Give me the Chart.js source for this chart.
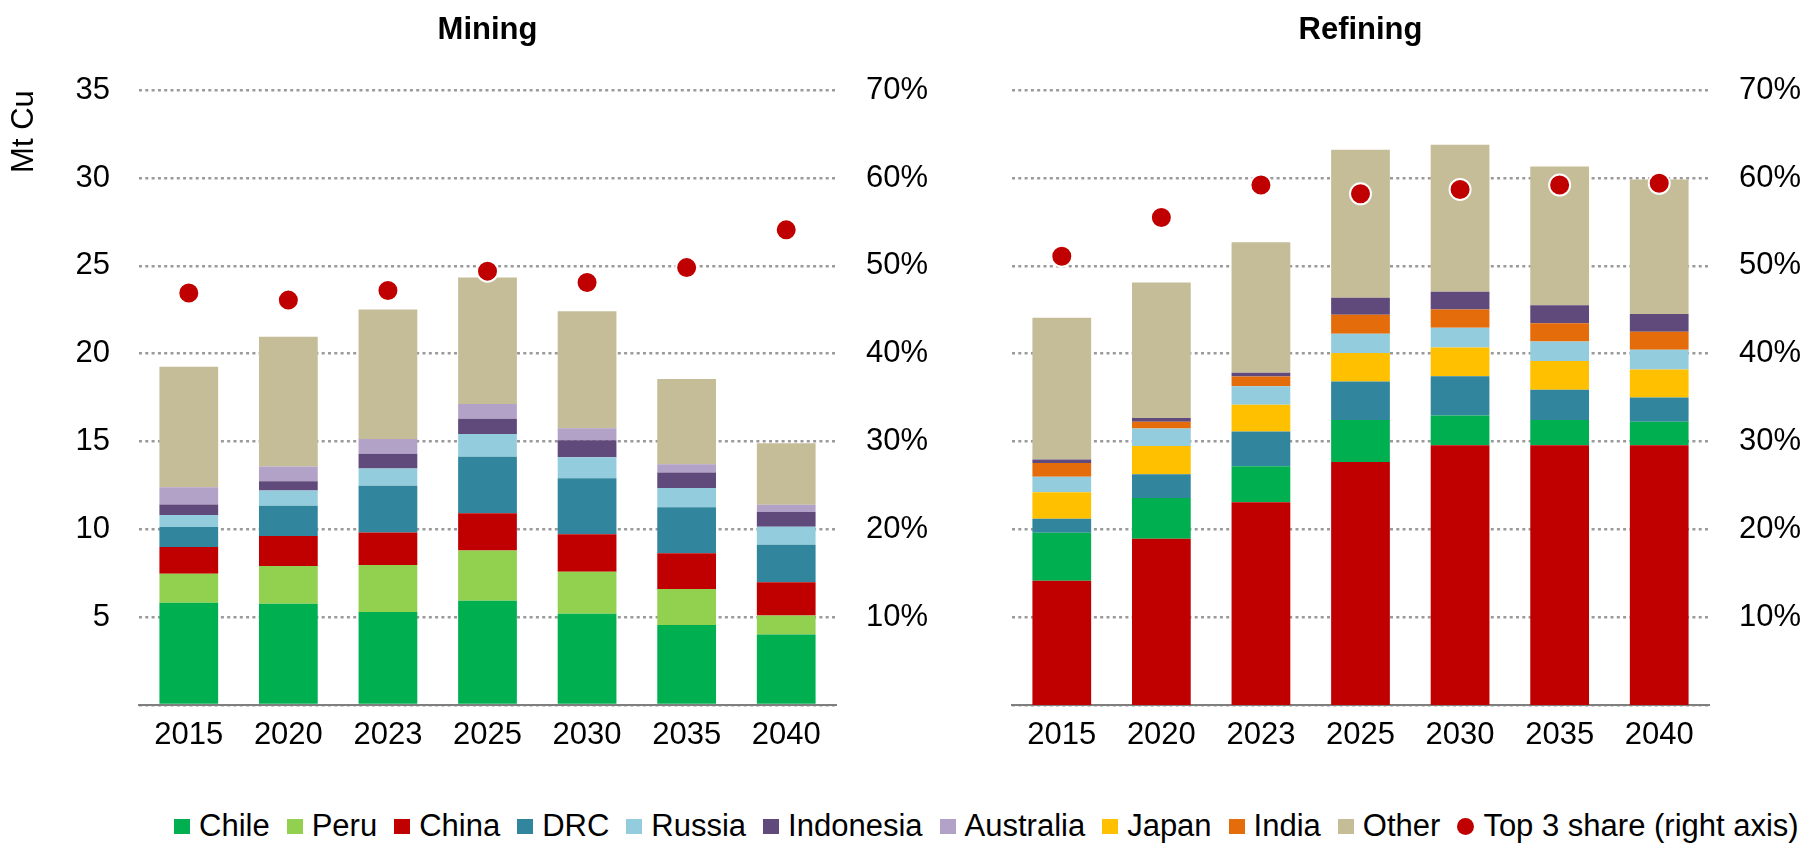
<!DOCTYPE html>
<html>
<head>
<meta charset="utf-8">
<script src="https://cdn.jsdelivr.net/npm/chart.js@4"></script>
<style>
  body { margin: 0; background: #fff; width: 1807px; height: 843px; position: relative; overflow: hidden;
         font-family: "Liberation Sans", Arial, sans-serif; }
  canvas { position: absolute; top: 0; }
  #mining { left: 0; }
  #refining { left: 914px; }
  #legend { position: absolute; left: 174px; top: 808px; display: flex; align-items: center;
            font-size: 31px; color: #000; white-space: nowrap; }
  #legend .item { display: flex; align-items: center; margin-right: 17px; }
  #legend .item:last-child { margin-right: 0; }
  #legend .sw { width: 16px; height: 15px; margin-right: 9px; }
  #legend .dot { width: 17px; height: 17px; border-radius: 50%; margin-right: 9px; }
</style>
</head>
<body>
<canvas id="mining" width="975" height="760"></canvas>
<canvas id="refining" width="893" height="760"></canvas>
<div id="legend"></div>
<script>
const years = ['2015', '2020', '2023', '2025', '2030', '2035', '2040'];

// Mining, Mt Cu
const miningChile     = [5.82, 5.77, 5.29, 5.94, 5.19, 4.55, 4.02];
const miningPeru      = [1.65, 2.15, 2.68, 2.85, 2.40, 2.06, 1.08];
const miningChina     = [1.53, 1.70, 1.85, 2.13, 2.13, 2.03, 1.89];
const miningDRC       = [1.13, 1.73, 2.66, 3.21, 3.19, 2.62, 2.13];
const miningRussia    = [0.69, 0.86, 0.98, 1.30, 1.20, 1.10, 1.03];
const miningIndonesia = [0.60, 0.53, 0.84, 0.86, 0.96, 0.88, 0.84];
const miningAustralia = [0.98, 0.84, 0.84, 0.84, 0.69, 0.46, 0.41];
const miningOther     = [6.85, 7.38, 7.38, 7.21, 6.66, 4.86, 3.50];
const miningTop3      = [46.9, 46.1, 47.2, 49.4, 48.1, 49.8, 54.1];

// Refining, Mt Cu
const refChina     = [7.08, 9.46, 11.54, 13.83, 14.79, 14.79, 14.79];
const refChile     = [2.72, 2.32, 2.05, 2.39, 1.69, 1.43, 1.33];
const refDRC       = [0.81, 1.36, 1.98, 2.19, 2.24, 1.72, 1.39];
const refJapan     = [1.50, 1.60, 1.53, 1.63, 1.63, 1.64, 1.59];
const refRussia    = [0.89, 1.00, 1.05, 1.09, 1.12, 1.12, 1.13];
const refIndia     = [0.78, 0.38, 0.55, 1.08, 1.05, 1.03, 1.02];
const refIndonesia = [0.19, 0.22, 0.21, 0.98, 1.00, 1.03, 1.01];
const refOther     = [8.07, 7.71, 7.43, 8.42, 8.38, 7.90, 7.66];
const refTop3      = [51.1, 55.5, 59.2, 58.2, 58.7, 59.2, 59.4];

const leftTicks = [5, 10, 15, 20, 25, 30, 35];
const rightTicks = [10, 20, 30, 40, 50, 60, 70];

const colors = {
    Chile: '#00B050', Peru: '#92D050', China: '#C00000', DRC: '#31859C', Russia: '#93CDDD',
    Indonesia: '#604A7B', Australia: '#B3A2C7', Japan: '#FFC000', India: '#E46C0A', Other: '#C4BD97'
};
const dotColor = '#C00000';

Chart.defaults.font.family = '"Liberation Sans", Arial, sans-serif';
Chart.defaults.font.size = 31;
Chart.defaults.color = '#000';

// grid lines in v4 have no dash option, so force a dotted pattern while grids are drawn
const origDrawGrid = Chart.Scale.prototype.drawGrid;
Chart.Scale.prototype.drawGrid = function (chartArea) {
    const ctx = this.ctx;
    const origSetLineDash = ctx.setLineDash;
    ctx.setLineDash = function () { origSetLineDash.call(ctx, [3, 3.3]); };
    try { origDrawGrid.call(this, chartArea); } finally { ctx.setLineDash = origSetLineDash; }
};

function bar(label, data) {
    return { type: 'bar', label, data, backgroundColor: colors[label], stack: 's', order: 1,
             barPercentage: 0.59, categoryPercentage: 1, borderWidth: 0 };
}
function dots(data) {
    return { type: 'line', label: 'Top 3 share (right axis)', data, yAxisID: 'y2', order: 0,
             showLine: false, pointRadius: 10.5, pointHoverRadius: 10.5, pointBackgroundColor: dotColor,
             pointBorderColor: '#fff', pointBorderWidth: 2 };
}

const gridStyle = { color: '#9a9a9a', lineWidth: 2.6, drawTicks: false };

function makeChart(id, title, datasets, isLeft) {
    // fixed side widths keep both plot areas the same size and the titles centred on them
    const sideWidth = isLeft ? 139 : 98;
    return new Chart(document.getElementById(id), {
        data: { labels: years, datasets },
        options: {
            responsive: false,
            animation: false,
            layout: { padding: 0 },
            plugins: {
                legend: { display: false },
                tooltip: { enabled: false },
                title: { display: true, text: title, font: { size: 31, weight: 'bold' }, color: '#000',
                         padding: { top: 12, bottom: 41 } }
            },
            scales: {
                x: {
                    stacked: true,
                    grid: { display: false, drawTicks: false },
                    border: { display: true, color: '#7f7f7f', width: 2 },
                    ticks: { padding: 12 },
                    afterFit: s => { s.height = 55; }
                },
                y: {
                    display: isLeft,
                    stacked: true,
                    min: 0, max: 35,
                    afterBuildTicks: s => { s.ticks = [0].concat(leftTicks).map(v => ({ value: v })); },
                    ticks: { padding: 29, callback: v => v === 0 ? '' : v },
                    grid: gridStyle,
                    border: { display: false },
                    title: { display: true, text: 'Mt Cu', align: 'end', padding: { top: 6, bottom: 0 } },
                    afterFit: s => { s.width = sideWidth; }
                },
                y2: {
                    position: 'right',
                    min: 0, max: 70,
                    afterBuildTicks: s => { s.ticks = [0].concat(rightTicks).map(v => ({ value: v })); },
                    ticks: { padding: 30, callback: v => v === 0 ? '' : v + '%' },
                    grid: isLeft ? { display: false, drawTicks: false } : gridStyle,
                    border: { display: false },
                    afterFit: s => { s.width = sideWidth; }
                }
            }
        }
    });
}

const miningChart = makeChart('mining', 'Mining', [
    dots(miningTop3),
    bar('Chile', miningChile),
    bar('Peru', miningPeru),
    bar('China', miningChina),
    bar('DRC', miningDRC),
    bar('Russia', miningRussia),
    bar('Indonesia', miningIndonesia),
    bar('Australia', miningAustralia),
    bar('Other', miningOther)
], true);

const refiningChart = makeChart('refining', 'Refining', [
    dots(refTop3),
    bar('China', refChina),
    bar('Chile', refChile),
    bar('DRC', refDRC),
    bar('Japan', refJapan),
    bar('Russia', refRussia),
    bar('India', refIndia),
    bar('Indonesia', refIndonesia),
    bar('Other', refOther)
], false);

// one legend shared by both panels
const legendNames = ['Chile', 'Peru', 'China', 'DRC', 'Russia', 'Indonesia', 'Australia', 'Japan', 'India', 'Other'];
const legendEl = document.getElementById('legend');
legendNames.forEach(name => {
    const item = document.createElement('div');
    item.className = 'item';
    item.innerHTML = `<span class="sw" style="background:${colors[name]}"></span><span>${name}</span>`;
    legendEl.appendChild(item);
});
const last = document.createElement('div');
last.className = 'item';
last.innerHTML = `<span class="dot" style="background:${dotColor}"></span><span>Top 3 share (right axis)</span>`;
legendEl.appendChild(last);
</script>
</body>
</html>
